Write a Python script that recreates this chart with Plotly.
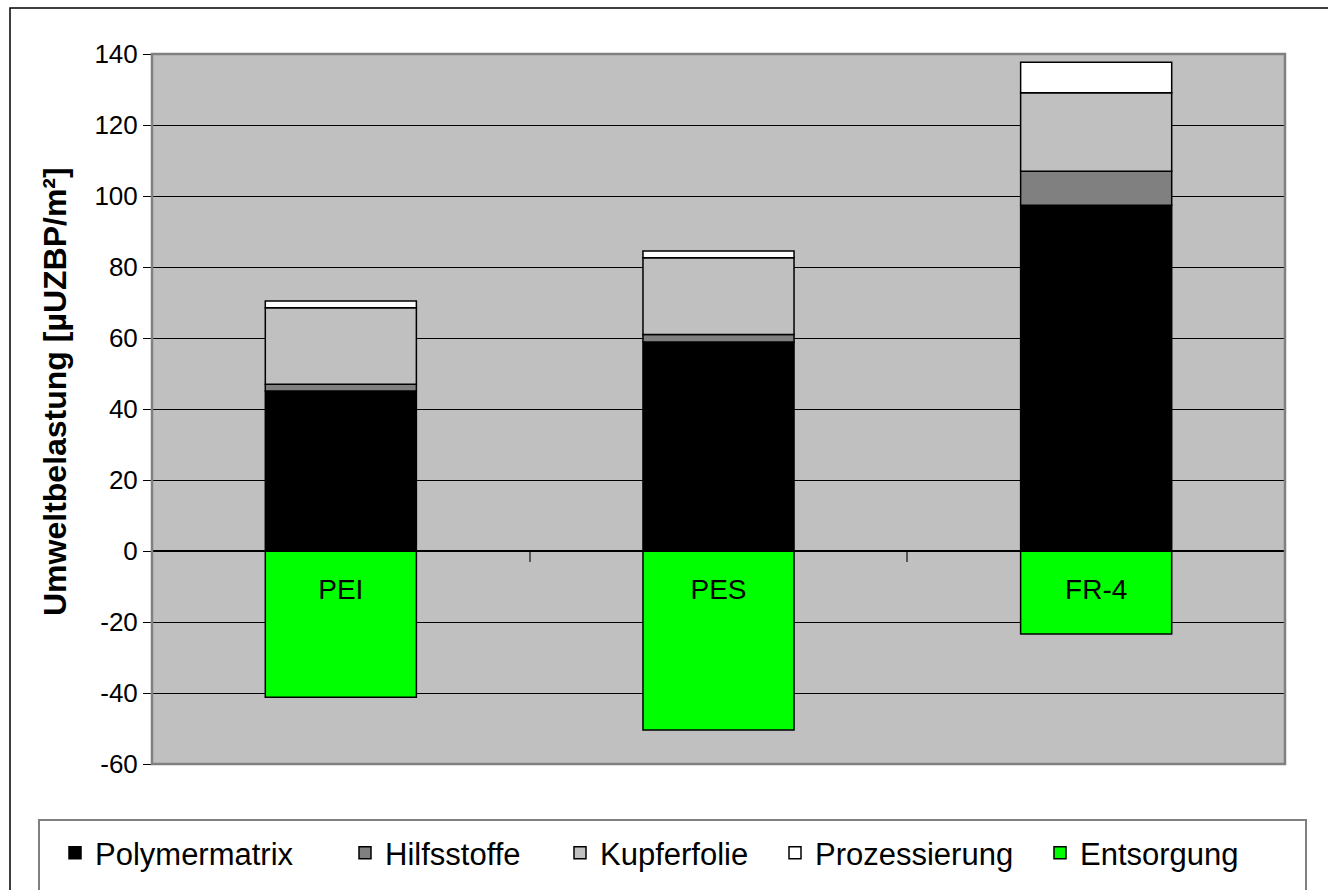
import plotly.graph_objects as go

# Materials / categories
materials = ["PEI", "PES", "FR-4"]

# Environmental load per component [µUZBP/m²]
polymermatrix = [45.1, 58.9, 97.4]
hilfsstoffe = [1.9, 2.1, 9.6]
kupferfolie = [21.5, 21.6, 22.1]
prozessierung = [1.9, 1.9, 8.6]
entsorgung = [-41.2, -50.4, -23.4]

series_names = ["Polymermatrix", "Hilfsstoffe", "Kupferfolie", "Prozessierung", "Entsorgung"]
series_values = [polymermatrix, hilfsstoffe, kupferfolie, prozessierung, entsorgung]
series_colors = ["#000000", "#808080", "#C0C0C0", "#FFFFFF", "#00FF00"]

y_ticks = list(range(-60, 141, 20))
y_tick_labels = [str(v) for v in y_ticks]  # plain hyphen for negatives
y_title = "Umweltbelastung [µUZBP/m²]"

FONT = "Liberation Sans, Arial, sans-serif"

# plot area in pixels
W, H = 1328, 890
L, R, T, B = 152, 43, 54, 126
PW, PH = W - L - R, H - T - B


def px_x(x):
    return (x - L) / PW


def px_y(y):
    return (H - B - y) / PH


# left edge of each legend entry's text
legend_text_x = [93, 383, 598, 813, 1078]

fig = go.Figure()
for i, (name, vals, col) in enumerate(zip(series_names, series_values, series_colors)):
    fig.add_trace(go.Bar(
        name=name, x=materials, y=vals,
        marker=dict(color=col, line=dict(color="#000000", width=1.5)),
        legend="legend" if i == 0 else f"legend{i + 1}",
    ))

legend_common = dict(
    orientation="h", bgcolor="rgba(0,0,0,0)", borderwidth=0,
    font=dict(family=FONT, size=31, color="#000000"),
    xanchor="left", yanchor="middle", itemwidth=30,
    tracegroupgap=0,
)
legends = {}
for i, tx in enumerate(legend_text_x):
    key = "legend" if i == 0 else f"legend{i + 1}"
    legends[key] = dict(legend_common, x=px_x(tx - 38), y=px_y(853))

fig.update_layout(
    width=W, height=H,
    margin=dict(l=L, r=R, t=T, b=B, autoexpand=False),
    paper_bgcolor="#FFFFFF", plot_bgcolor="#C0C0C0",
    barmode="relative", bargap=0.6,
    showlegend=True,
    **legends,
    xaxis=dict(
        type="category", anchor="free", position=0.3,
        tickson="boundaries", ticks="outside", ticklen=10, tickwidth=2,
        tickcolor="#555555",
        showline=True, linecolor="#000000", linewidth=1.5,
        showgrid=False, ticklabelstandoff=14,
        tickfont=dict(family=FONT, size=28, color="#000000"),
    ),
    yaxis=dict(
        range=[-60, 140], tickvals=y_ticks, ticktext=y_tick_labels,
        ticks="outside", ticklen=8,
        tickcolor="#000000", tickwidth=1,
        showgrid=True, gridcolor="#000000", gridwidth=1,
        zeroline=True, zerolinecolor="#000000", zerolinewidth=1.5,
        showline=False, automargin=False,
        tickfont=dict(family=FONT, size=26, color="#000000"),
    ),
    annotations=[
        dict(text=f"<b>{y_title}</b>", textangle=-90, showarrow=False,
             xref="paper", yref="paper", x=px_x(55), y=px_y(392),
             xanchor="center", yanchor="middle",
             font=dict(family=FONT, size=32, color="#000000")),
    ],
    shapes=[
        # plot area frame
        dict(type="rect", xref="paper", yref="paper", x0=0, x1=1, y0=0, y1=1,
             line=dict(color="#808080", width=2.5), layer="above"),
        # legend frame
        dict(type="rect", xref="paper", yref="paper",
             x0=px_x(39), x1=px_x(1306), y0=px_y(895), y1=px_y(820),
             line=dict(color="#808080", width=2)),
        # chart frame
        dict(type="rect", xref="paper", yref="paper",
             x0=px_x(10), x1=px_x(1340), y0=px_y(900), y1=px_y(8),
             line=dict(color="#000000", width=1.5)),
    ],
)

fig.write_html("out.html")
